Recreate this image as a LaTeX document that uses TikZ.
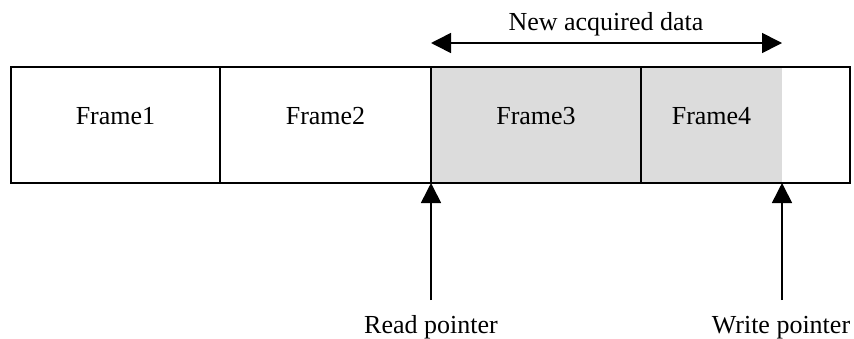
\documentclass[tikz,border=0pt]{standalone}
\usepackage{fontspec}
\setmainfont{Liberation Serif}
\usetikzlibrary{arrows.meta,positioning}
\definecolor{newgray}{HTML}{DCDCDC}
\tikzset{every node/.append style={font=\fontsize{13}{15}\selectfont}}

\begin{document}
\begin{tikzpicture}[x=0.5pt, y=-0.5pt,
  frame/.style={draw, line width=0.8pt, rectangle, inner sep=0pt,
                minimum height=58pt, text height=9pt, text depth=10pt},
  ptr/.style={line width=0.8pt, -{Triangle[length=10pt,width=10pt]}}]
\useasboundingbox (0,0) rectangle (854,338);
% buffer
\fill[newgray] (431,67) rectangle (782,183);
\node[frame, minimum width=104.5pt] (f1) at (115.5,125) {Frame1};
\node[frame, minimum width=105.5pt] (f2) at (325.5,125) {Frame2};
\node[frame, minimum width=105pt] (f3) at (536,125) {Frame3};
\node[frame, minimum width=104.5pt] (f4) at (745.5,125) {};
\node[anchor=base] (f4lab) at (711.5,124) {Frame4};
% pointers
\coordinate (rhead) at (431,183);
\coordinate (whead) at (782,183);
\coordinate (rtail) at (431,300);
\coordinate (wtail) at (782,300);
\node[anchor=base] (rlab) at (431,333) {Read pointer};
\node[anchor=base] (wlab) at (781,333) {Write pointer};
\draw[ptr] (rtail) -- (rhead);
\draw[ptr] (wtail) -- (whead);
% new data span
\coordinate (nl) at (431,43);
\coordinate (nr) at (782,43);
\node[anchor=base] (newlab) at (606,30) {New acquired data};
\draw[ptr, {Triangle[length=10pt,width=10pt]}-{Triangle[length=10pt,width=10pt]}] (nl) -- (nr);
\end{tikzpicture}
\end{document}
